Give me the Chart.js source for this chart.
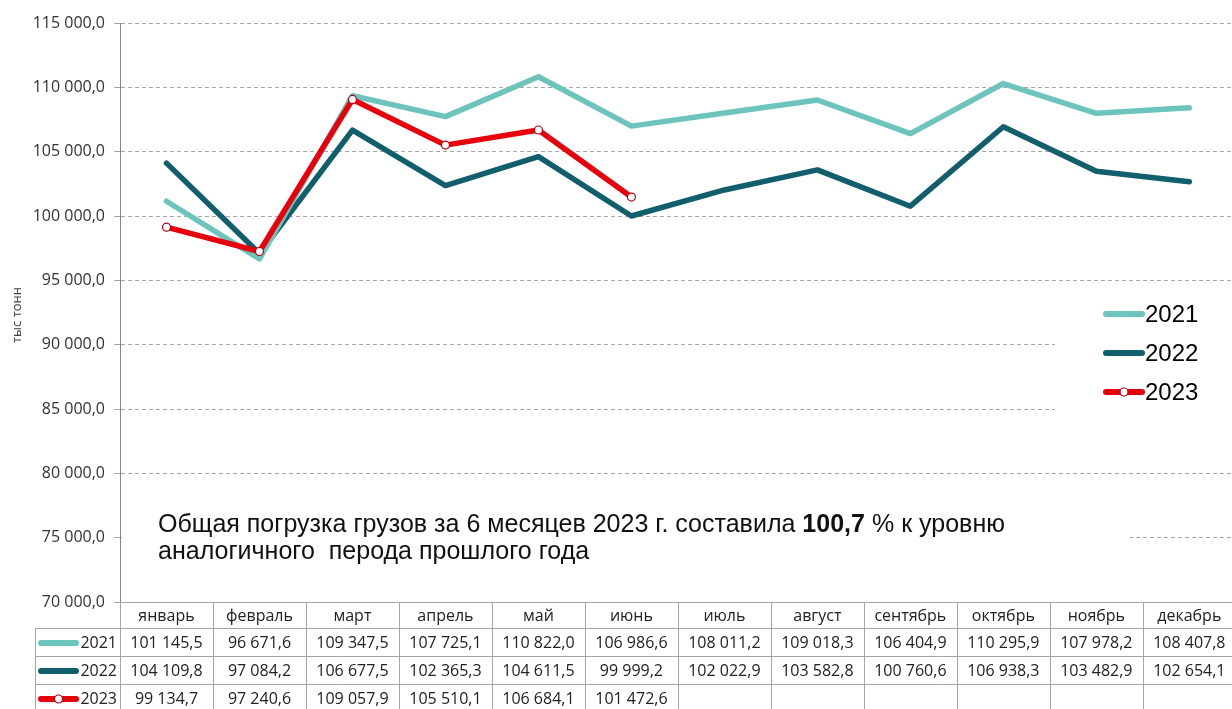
<!DOCTYPE html>
<html>
<head>
<meta charset="utf-8">
<script src="https://cdn.jsdelivr.net/npm/chart.js@4"></script>
<style>
  html, body { margin: 0; padding: 0; overflow: hidden; background: #fff; }
  canvas { display: block; }
</style>
</head>
<body>
<canvas id="myChart" width="1241" height="709"></canvas>
<script>
// data
const months = ['январь', 'февраль', 'март', 'апрель', 'май', 'июнь', 'июль', 'август', 'сентябрь', 'октябрь', 'ноябрь', 'декабрь'];
const years = ['2021', '2022', '2023'];
const values2021 = [101145.5, 96671.6, 109347.5, 107725.1, 110822.0, 106986.6, 108011.2, 109018.3, 106404.9, 110295.9, 107978.2, 108407.8];
const values2022 = [104109.8, 97084.2, 106677.5, 102365.3, 104611.5, 99999.2, 102022.9, 103582.8, 100760.6, 106938.3, 103482.9, 102654.1];
const values2023 = [99134.7, 97240.6, 109057.9, 105510.1, 106684.1, 101472.6, null, null, null, null, null, null];
const yAxisTitle = 'тыс тонн';
const noteStart = 'Общая погрузка грузов за 6 месяцев 2023 г. составила ';
const noteBold = '100,7';
const noteEnd = ' % к уровню';
const noteLine2 = 'аналогичного  перода прошлого года';

const colors = ['#6cc4bc', '#115f6d', '#e8000b'];
const seriesValues = [values2021, values2022, values2023];

// number like "101 145,5"
function fmt(v) {
  const parts = v.toFixed(1).split('.');
  return parts[0].replace(/\B(?=(\d{3})+(?!\d))/g, ' ') + ',' + parts[1];
}

function drawSample(ctx, x1, x2, y, i) {
  ctx.save();
  ctx.strokeStyle = colors[i];
  ctx.lineWidth = 6;
  ctx.lineCap = 'round';
  ctx.beginPath();
  ctx.moveTo(x1, y);
  ctx.lineTo(x2, y);
  ctx.stroke();
  if (i === 2) {
    ctx.beginPath();
    ctx.arc((x1 + x2) / 2, y, 4, 0, Math.PI * 2);
    ctx.fillStyle = '#fff';
    ctx.fill();
    ctx.lineWidth = 1.2;
    ctx.strokeStyle = '#b00010';
    ctx.stroke();
  }
  ctx.restore();
}

const extrasPlugin = {
  id: 'extras',
  beforeDatasetsDraw: (chart) => {
    const ctx = chart.ctx;
    // white boxes hiding gridlines behind legend and note
    ctx.save();
    ctx.fillStyle = '#fff';
    ctx.fillRect(1055, 290, 190, 130);
    ctx.fillRect(122, 503, 1008, 70);
    ctx.restore();
  },
  afterDraw: (chart) => {
    const ctx = chart.ctx;
    const x = chart.scales.x;
    const area = chart.chartArea;

    // legend
    ctx.save();
    ctx.font = '24px "Liberation Sans", Arial, sans-serif';
    ctx.fillStyle = '#000';
    ctx.textBaseline = 'middle';
    years.forEach((yr, i) => {
      const yy = 314 + i * 39;
      drawSample(ctx, 1106, 1142, yy, i);
      ctx.fillText(yr, 1145, yy + 1);
    });
    ctx.restore();

    // note text (slightly condensed like the original)
    ctx.save();
    ctx.fillStyle = '#111';
    ctx.textBaseline = 'alphabetic';
    const normal = '26px "Liberation Sans", Arial, sans-serif';
    const bold = 'bold 26px "Liberation Sans", Arial, sans-serif';
    ctx.font = normal;
    const w1 = ctx.measureText(noteStart).width;
    const w3 = ctx.measureText(noteEnd).width;
    ctx.font = bold;
    const w2 = ctx.measureText(noteBold).width;
    const sx = 847 / (w1 + w2 + w3);
    ctx.translate(158, 532);
    ctx.scale(sx, 1);
    ctx.font = normal;
    ctx.fillText(noteStart, 0, 0);
    ctx.font = bold;
    ctx.fillText(noteBold, w1, 0);
    ctx.font = normal;
    ctx.fillText(noteEnd, w1 + w2, 0);
    ctx.fillText(noteLine2, 0, 27);
    ctx.restore();

    // y axis title
    ctx.save();
    ctx.translate(17, 315);
    ctx.rotate(-Math.PI / 2);
    ctx.font = '13px "Open Sans", sans-serif';
    ctx.fillStyle = '#404040';
    ctx.textAlign = 'center';
    ctx.textBaseline = 'middle';
    ctx.fillText(yAxisTitle, 0, 0);
    ctx.restore();

    // data table
    const rowTops = [603, 629, 657, 685, 713];
    const half = (x.getPixelForValue(1) - x.getPixelForValue(0)) / 2;
    ctx.save();
    ctx.strokeStyle = '#a6a6a6';
    ctx.lineWidth = 1;
    ctx.beginPath();
    for (let r = 1; r < rowTops.length; r++) {
      ctx.moveTo(35, rowTops[r] - 0.5);
      ctx.lineTo(chart.width, rowTops[r] - 0.5);
    }
    ctx.moveTo(35.5, rowTops[1]);
    ctx.lineTo(35.5, 709);
    for (let i = 0; i <= months.length; i++) {
      const bx = Math.round(area.left + i * half * 2) + 0.5;
      ctx.moveTo(bx, area.bottom);
      ctx.lineTo(bx, 709);
    }
    ctx.stroke();

    ctx.font = '16px "Open Sans", sans-serif';
    ctx.fillStyle = '#222';
    ctx.textAlign = 'center';
    ctx.textBaseline = 'middle';
    months.forEach((m, i) => {
      const cx = x.getPixelForValue(i);
      ctx.fillText(m, cx, (rowTops[0] + rowTops[1]) / 2);
      seriesValues.forEach((arr, s) => {
        if (arr[i] !== null) {
          ctx.fillText(fmt(arr[i]), cx, (rowTops[s + 1] + rowTops[s + 2]) / 2);
        }
      });
    });
    ctx.textAlign = 'right';
    years.forEach((yr, s) => {
      const cy = (rowTops[s + 1] + rowTops[s + 2]) / 2;
      drawSample(ctx, 41, 76, cy, s);
      ctx.fillText(yr, 117, cy);
    });
    ctx.restore();
  }
};

const chartData = {
  labels: months,
  datasets: [
    {
      label: years[0],
      data: values2021,
      borderColor: colors[0],
      borderWidth: 5.5,
      pointRadius: 0,
      order: 1
    },
    {
      label: years[1],
      data: values2022,
      borderColor: colors[1],
      borderWidth: 5.5,
      pointRadius: 0,
      order: 2
    },
    {
      label: years[2],
      data: values2023,
      borderColor: colors[2],
      borderWidth: 5.5,
      pointRadius: 4,
      pointBackgroundColor: '#fff',
      pointBorderColor: '#b00010',
      pointBorderWidth: 1.2,
      order: 0
    }
  ]
};

const config = {
  type: 'line',
  data: chartData,
  options: {
    responsive: false,
    animation: false,
    devicePixelRatio: 1,
    layout: { padding: { top: 23, bottom: 107, left: 0, right: 1 } },
    elements: {
      line: { tension: 0, borderCapStyle: 'round', borderJoinStyle: 'round' }
    },
    plugins: {
      legend: { display: false },
      tooltip: { enabled: false },
      title: { display: false }
    },
    scales: {
      x: {
        offset: true,
        grid: { display: false },
        ticks: { display: false },
        border: { display: true, color: '#a6a6a6', width: 1 },
        afterFit: (scale) => { scale.height = 0; }
      },
      y: {
        min: 70000,
        max: 115000,
        ticks: {
          stepSize: 5000,
          padding: 9,
          color: '#333',
          font: { family: '"Open Sans", sans-serif', size: 16 },
          callback: (v) => fmt(v)
        },
        grid: {
          color: '#a6a6a6',
          tickLength: 6,
          tickBorderDash: [],
          tickColor: '#a6a6a6'
        },
        // in v4 the dash here applies to the grid lines, the axis line stays solid
        border: { display: true, color: '#868686', width: 1, dash: [4, 3] },
        afterFit: (scale) => { scale.width = 120; }
      }
    }
  },
  plugins: [extrasPlugin]
};

let chart;
function createChart() {
  const ctx = document.getElementById('myChart').getContext('2d');
  if (chart) {
    chart.destroy();
  }
  chart = new Chart(ctx, config);
}

createChart();
</script>
</body>
</html>
